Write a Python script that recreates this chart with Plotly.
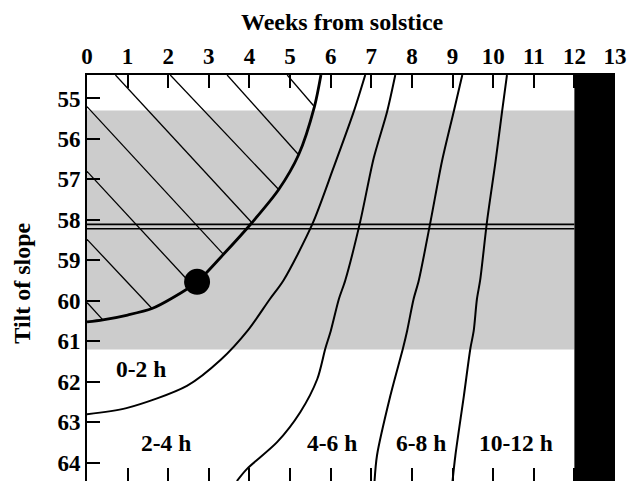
import plotly.graph_objects as go

# ---- data ----
weeks_ticks = list(range(0, 14))
tilt_ticks = list(range(55, 65))

# boundary of hatched region (thick curve)
curve_a_x = [0.0, 0.39, 1.0, 1.6, 2.1, 2.71, 3.36, 4.06, 4.72, 5.21, 5.6, 5.76]
curve_a_y = [60.52, 60.47, 60.35, 60.19, 59.93, 59.53, 58.85, 58.07, 57.25, 56.39, 55.2, 54.42]

curve_b_x = [0.0, 0.97, 2.46, 3.3, 3.96, 4.5, 4.84, 5.55, 6.07, 6.57, 6.85]
curve_b_y = [62.8, 62.65, 62.1, 61.45, 60.73, 59.96, 59.49, 58.1, 56.71, 55.32, 54.42]

curve_c_x = [3.69, 3.94, 4.68, 5.25, 5.67, 5.87, 6.0, 6.2, 6.36, 6.73, 7.06, 7.39, 7.59]
curve_c_y = [64.45, 64.15, 63.49, 62.75, 61.93, 61.17, 60.75, 59.96, 59.49, 58.03, 56.47, 55.32, 54.42]

curve_d_x = [7.08, 7.14, 7.47, 7.78, 7.88, 8.04, 8.17, 8.46, 8.74, 9.03, 9.24]
curve_d_y = [64.45, 63.82, 62.34, 61.17, 60.75, 59.96, 59.49, 58.03, 56.55, 55.32, 54.42]

curve_e_x = [9.0, 9.07, 9.28, 9.44, 9.52, 9.6, 9.68, 9.85, 10.06, 10.22, 10.34]
curve_e_y = [64.45, 63.82, 62.34, 61.17, 60.75, 59.96, 59.49, 58.03, 56.55, 55.32, 54.42]

# hatch segments (start, end)
hatch_x0 = [0.0, 0.0, 0.0, 0.0, 0.70, 2.05, 3.45, 4.93]
hatch_y0 = [60.04, 58.48, 56.8, 55.2, 54.42, 54.42, 54.42, 54.42]
hatch_x1 = [0.39, 1.6, 2.6, 3.36, 4.06, 4.72, 5.21, 5.58]
hatch_y1 = [60.47, 60.19, 59.62, 58.85, 58.07, 57.25, 56.39, 55.18]

dot_x = [2.71]
dot_y = [59.53]

band_tilt = [55.3, 61.2]
double_line_tilt = [58.11, 58.22]
double_line_weeks = [0, 12]
dark_weeks = [12, 13]

labels_text = ["0-2 h", "2-4 h", "4-6 h", "6-8 h", "10-12 h"]
labels_x = [1.32, 1.95, 6.02, 8.23, 10.57]
labels_y = [61.69, 63.5, 63.5, 63.5, 63.5]

x_range = [0, 13]
y_range = [64.45, 54.42]

FONT = "Liberation Serif"

fig = go.Figure()

# hatch lines
hx, hy = [], []
for a, b, c, d in zip(hatch_x0, hatch_y0, hatch_x1, hatch_y1):
    hx += [a, c, None]
    hy += [b, d, None]
fig.add_trace(go.Scatter(x=hx, y=hy, mode="lines", line=dict(color="black", width=1.3),
                         hoverinfo="skip", showlegend=False))

# double horizontal line
for t in double_line_tilt:
    fig.add_trace(go.Scatter(x=double_line_weeks, y=[t, t], mode="lines",
                             line=dict(color="black", width=1.6), showlegend=False))

# curves
fig.add_trace(go.Scatter(x=curve_a_x, y=curve_a_y, mode="lines",
                         line=dict(color="black", width=2.8, shape="spline", smoothing=0.8),
                         showlegend=False))
for cx, cy in [(curve_b_x, curve_b_y), (curve_c_x, curve_c_y),
               (curve_d_x, curve_d_y), (curve_e_x, curve_e_y)]:
    fig.add_trace(go.Scatter(x=cx, y=cy, mode="lines",
                             line=dict(color="black", width=2.0, shape="spline", smoothing=0.8),
                             showlegend=False))

# dot
fig.add_trace(go.Scatter(x=dot_x, y=dot_y, mode="markers",
                         marker=dict(color="black", size=26), showlegend=False))

# invisible trace for bottom ticks axis
fig.add_trace(go.Scatter(x=x_range, y=[y_range[0], y_range[0]], xaxis="x2", mode="lines",
                         line=dict(width=0), hoverinfo="skip", showlegend=False))

# shapes: gray band, black bar
fig.add_shape(type="rect", xref="x", yref="y", x0=0, x1=dark_weeks[0],
              y0=band_tilt[0], y1=band_tilt[1], fillcolor="#cccccc",
              line=dict(width=0), layer="below")
fig.add_shape(type="rect", xref="x", yref="paper", x0=dark_weeks[0], x1=dark_weeks[1],
              y0=0, y1=1, fillcolor="black", line=dict(width=0), layer="above")

for t, x, y in zip(labels_text, labels_x, labels_y):
    fig.add_annotation(x=x, y=y, xref="x", yref="y", text=t, showarrow=False,
                       font=dict(family=FONT, size=23.5, color="black", weight="bold"))

# axis titles
fig.add_annotation(x=0.4835, y=1, xref="paper", yref="paper", yshift=53.3,
                   xanchor="center", yanchor="middle", text="Weeks from solstice",
                   showarrow=False, font=dict(family=FONT, size=24, color="black", weight="bold"))
fig.add_annotation(x=0, y=0.4877, xref="paper", yref="paper", xshift=-65.3,
                   xanchor="center", yanchor="middle", text="Tilt of slope",
                   textangle=-90, showarrow=False,
                   font=dict(family=FONT, size=24, color="black", weight="bold"))

fig.update_layout(
    width=629, height=481,
    margin=dict(l=87, r=14, t=75, b=0),
    paper_bgcolor="white", plot_bgcolor="white",
    xaxis=dict(side="top", range=x_range, tickvals=weeks_ticks, ticks="inside", ticklen=13,
               tickwidth=2, tickcolor="black", showline=True, linewidth=2, linecolor="black",
               showgrid=False, zeroline=False,
               tickfont=dict(family=FONT, size=23, color="black", weight="bold")),
    xaxis2=dict(overlaying="x", side="bottom", anchor="y", range=x_range, tickvals=weeks_ticks,
                ticks="inside", ticklen=13, tickwidth=2, tickcolor="black",
                showticklabels=False, showline=False, showgrid=False, zeroline=False),
    yaxis=dict(range=y_range, tickvals=tilt_ticks, ticks="inside", ticklen=13, tickwidth=2,
               tickcolor="black", showline=True, linewidth=2, linecolor="black",
               showgrid=False, zeroline=False,
               tickfont=dict(family=FONT, size=23, color="black", weight="bold")),
)

fig.write_html("out.html", config={"displayModeBar": False},
               post_script="document.body.style.margin='0';document.body.style.overflow='hidden';")
